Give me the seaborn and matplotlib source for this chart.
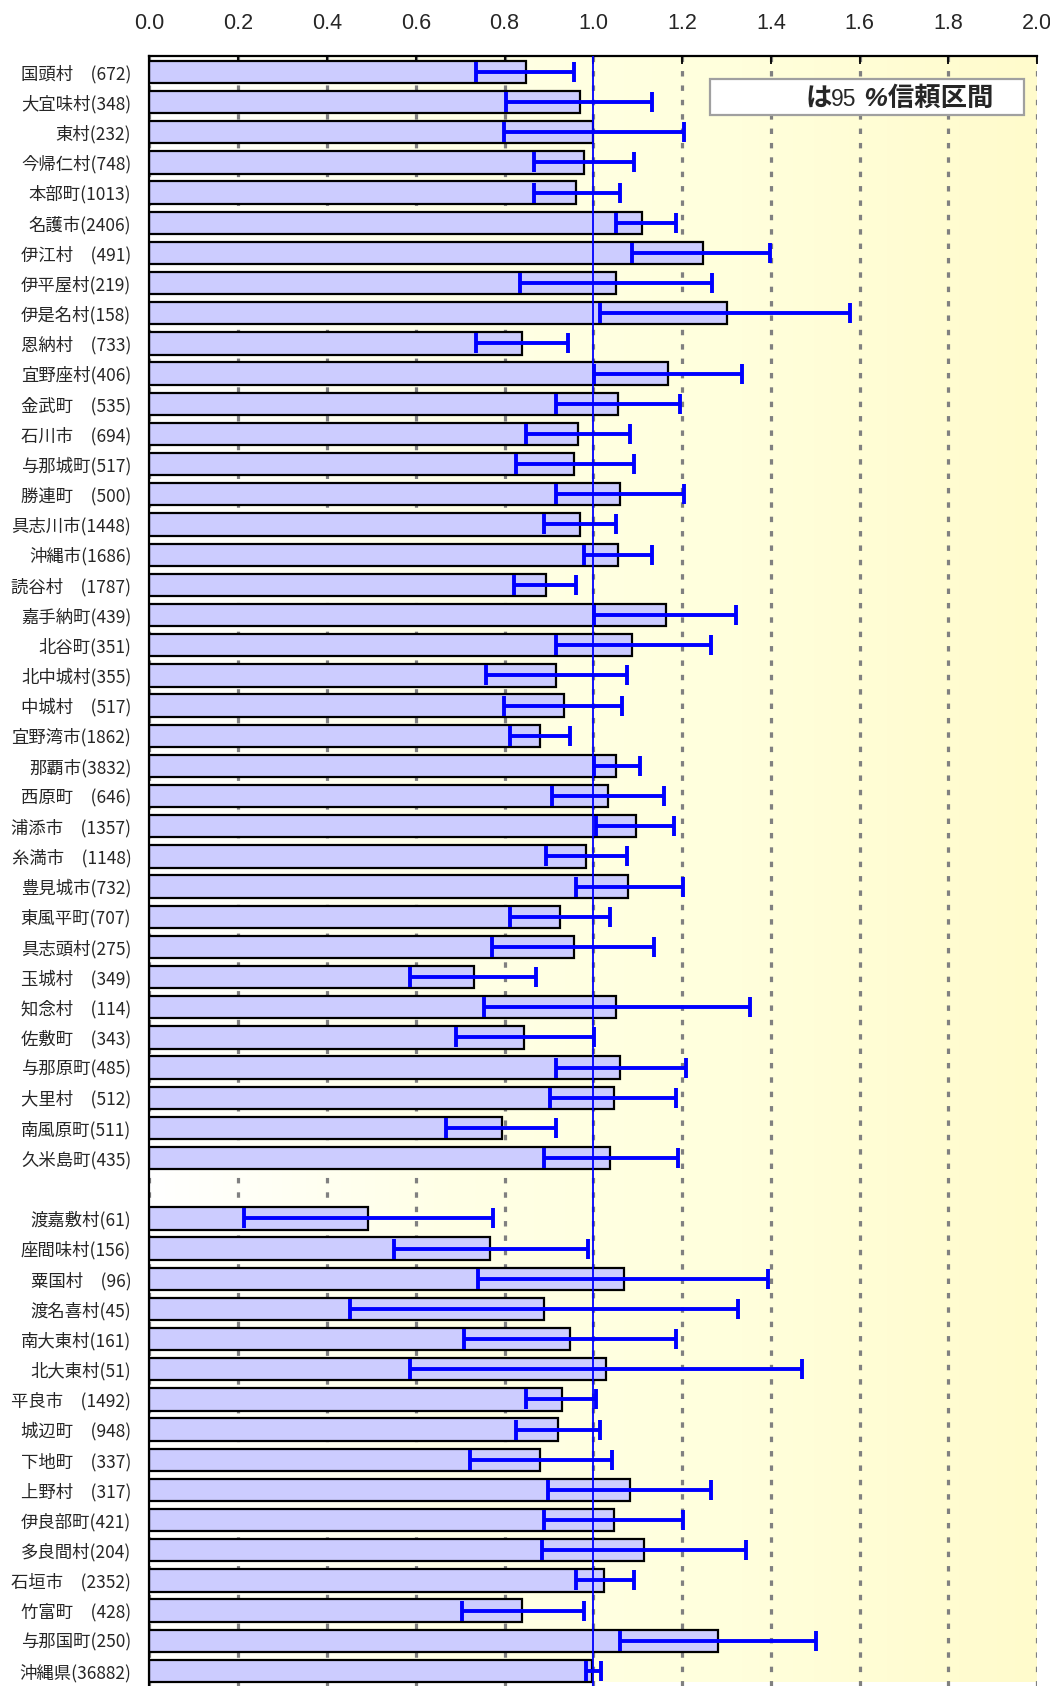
import numpy as np
import pandas as pd
import matplotlib
matplotlib.use("Agg")
import matplotlib.pyplot as plt
from matplotlib.patches import Rectangle
from matplotlib.colors import LinearSegmentedColormap
import seaborn as sns

# --- données : rapport standardisé et IC 95 % ---
# groupe 1 : île principale + îles proches
labels_a = ["国頭村　(672)", "大宜味村(348)", "東村(232)", "今帰仁村(748)", "本部町(1013)",
            "名護市(2406)", "伊江村　(491)", "伊平屋村(219)", "伊是名村(158)", "恩納村　(733)",
            "宜野座村(406)", "金武町　(535)", "石川市　(694)", "与那城町(517)", "勝連町　(500)",
            "具志川市(1448)", "沖縄市(1686)", "読谷村　(1787)", "嘉手納町(439)", "北谷町(351)",
            "北中城村(355)", "中城村　(517)", "宜野湾市(1862)", "那覇市(3832)", "西原町　(646)",
            "浦添市　(1357)", "糸満市　(1148)", "豊見城市(732)", "東風平町(707)", "具志頭村(275)",
            "玉城村　(349)", "知念村　(114)", "佐敷町　(343)", "与那原町(485)", "大里村　(512)",
            "南風原町(511)", "久米島町(435)"]
ratio_a = [0.848, 0.971, 1.000, 0.979, 0.962, 1.110, 1.246, 1.052, 1.300, 0.840,
           1.169, 1.056, 0.966, 0.956, 1.061, 0.971, 1.056, 0.894, 1.164, 1.088,
           0.917, 0.935, 0.881, 1.052, 1.034, 1.097, 0.984, 1.079, 0.926, 0.957,
           0.732, 1.052, 0.845, 1.061, 1.047, 0.795, 1.038]
lower_a = [0.736, 0.803, 0.799, 0.867, 0.867, 1.051, 1.087, 0.835, 1.016, 0.736,
           1.002, 0.916, 0.848, 0.826, 0.916, 0.889, 0.979, 0.821, 1.002, 0.916,
           0.758, 0.799, 0.812, 1.002, 0.908, 1.006, 0.893, 0.962, 0.812, 0.772,
           0.587, 0.754, 0.691, 0.916, 0.902, 0.668, 0.889]
upper_a = [0.956, 1.133, 1.205, 1.092, 1.061, 1.187, 1.398, 1.268, 1.579, 0.944,
           1.336, 1.196, 1.083, 1.092, 1.205, 1.052, 1.133, 0.962, 1.322, 1.264,
           1.075, 1.065, 0.948, 1.106, 1.160, 1.182, 1.075, 1.201, 1.038, 1.137,
           0.871, 1.354, 1.002, 1.209, 1.187, 0.916, 1.191]

# groupe 2 : îles éloignées + total préfecture
labels_b = ["渡嘉敷村(61)", "座間味村(156)", "粟国村　(96)", "渡名喜村(45)", "南大東村(161)",
            "北大東村(51)", "平良市　(1492)", "城辺町　(948)", "下地町　(337)", "上野村　(317)",
            "伊良部町(421)", "多良間村(204)", "石垣市　(2352)", "竹富町　(428)", "与那国町(250)",
            "沖縄県(36882)"]
ratio_b = [0.493, 0.768, 1.069, 0.889, 0.948, 1.029, 0.930, 0.921, 0.881, 1.083,
           1.047, 1.115, 1.025, 0.840, 1.281, 0.998]
lower_b = [0.213, 0.551, 0.740, 0.452, 0.708, 0.587, 0.849, 0.827, 0.722, 0.899,
           0.890, 0.885, 0.962, 0.704, 1.061, 0.984]
upper_b = [0.773, 0.988, 1.394, 1.327, 1.187, 1.471, 1.006, 1.016, 1.043, 1.264,
           1.201, 1.345, 1.092, 0.979, 1.502, 1.017]

x_ticks = [0.0, 0.2, 0.4, 0.6, 0.8, 1.0, 1.2, 1.4, 1.6, 1.8, 2.0]
reference = 1.0

# ligne vide entre les deux groupes
order = labels_a + [""] + labels_b
df = pd.DataFrame({
    "label": labels_a + labels_b,
    "ratio": ratio_a + ratio_b,
    "lower": lower_a + lower_b,
    "upper": upper_a + upper_b,
})
df["pos"] = [order.index(l) for l in df["label"]]

sns.set_style("white")
plt.rcParams["font.family"] = ["Liberation Sans", "Noto Sans CJK JP", "DejaVu Sans"]

fig = plt.figure(figsize=(10.5, 16.86), dpi=100)
ax = fig.add_axes([0.1422, 0.0, 0.8457, 0.9668])

y_top, y_bot = -0.53, 53.36

# fond dégradé blanc -> jaune clair
cmap_fond = LinearSegmentedColormap.from_list("fond", ["#FFFFFF", "#FFFFE6", "#FFFFDC", "#FFFBCC"])
ax.imshow(np.linspace(0, 1, 256)[None, :], cmap=cmap_fond, aspect="auto",
          extent=(0, 2, y_bot, y_top), zorder=0, interpolation="bilinear")

sns.barplot(data=df, x="ratio", y="label", order=order, orient="h",
            color="#CCCCFF", saturation=1, edgecolor="black", linewidth=1.6,
            width=0.74, errorbar=None, ax=ax, zorder=2)

ax.axvline(reference, color="blue", lw=1.3, zorder=3)

ax.errorbar(df["ratio"], df["pos"],
            xerr=[df["ratio"] - df["lower"], df["upper"] - df["ratio"]],
            fmt="none", ecolor="blue", elinewidth=2.8, capsize=7, capthick=2.8, zorder=4)

# axes
ax.set_xlim(0, 2)
ax.set_ylim(y_bot, y_top)
ax.set_xlabel("")
ax.set_ylabel("")
ax.xaxis.tick_top()
ax.set_xticks(x_ticks, [f"{v:.1f}" for v in x_ticks])
ax.tick_params(axis="x", direction="in", length=6, width=1.3, color="black",
               pad=16, labelsize=15.5, top=True, bottom=False)
ax.set_yticks(range(len(order)), order, fontsize=12.5,
              family=["Liberation Sans Narrow", "Noto Sans CJK JP", "DejaVu Sans"])
ax.set_yticks(np.arange(len(order) + 1) - 0.5, minor=True)
ax.tick_params(axis="y", which="major", length=0, pad=13)
ax.tick_params(axis="y", which="minor", direction="in", length=5, width=1.2, color="black")

ax.set_axisbelow(True)
ax.grid(axis="x", color="#808080", lw=2.3, linestyle=(0, (1.7, 2.8)), zorder=1)
ax.grid(axis="y", visible=False)

for s in ["right", "bottom"]:
    ax.spines[s].set_visible(False)
for s in ["top", "left"]:
    ax.spines[s].set_color("black")
    ax.spines[s].set_linewidth(1.6)

# encadré "は95 %信頼区間" (dessiné dans l'axe pour rester au-dessus des barres)
ax.add_patch(Rectangle((0.6762, 0.9318), 0.299, 0.0213, transform=fig.transFigure,
                       facecolor="white", edgecolor="#A0A0A0", lw=1.6, zorder=5, clip_on=False))
fam = ["Liberation Sans", "Noto Sans CJK JP", "DejaVu Sans"]
t1 = ax.text(805 / 1050, 1 - 106 / 1686, "は", transform=fig.transFigure, ha="left",
             va="baseline", fontsize=19, weight="bold", style="italic", family=fam, zorder=6)
t2 = ax.annotate("95", xy=(1, 0), xycoords=t1, ha="left", va="bottom",
                 fontsize=16.5, family=fam, zorder=6, annotation_clip=False)
t3 = ax.annotate(" %信頼区間", xy=(1, 0), xycoords=t2, ha="left", va="bottom",
                 fontsize=19, weight="bold", style="italic", family=fam, zorder=6,
                 annotation_clip=False)

plt.savefig("out.png", dpi=100)
